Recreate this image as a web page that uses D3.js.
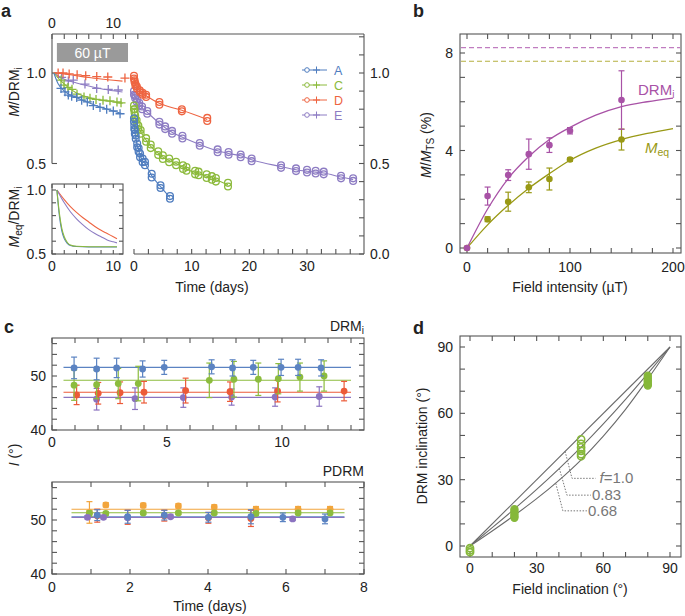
<!DOCTYPE html>
<html><head><meta charset="utf-8">
<script src="https://cdn.jsdelivr.net/npm/d3@7"></script>
<style>
body{margin:0;background:#fff}
svg{display:block}
text{font-family:"Liberation Sans",Arial,Helvetica,sans-serif;fill:#222}
</style>
</head><body><svg id="c" width="685" height="616"></svg>
<script>
// ---------------- DATA ----------------
// Panel a : crosses (during 60 uT field), time on top axis (days)
const crossA = [[1.47,0.915],[2.12,0.896],[2.66,0.878],[3.21,0.872],[4.03,0.865],[4.84,0.85],[5.76,0.84],[6.74,0.82],[7.83,0.81],[8.92,0.80],[10.0,0.79],[11.1,0.775]];
const crossC = [[1.47,0.961],[1.96,0.933],[2.61,0.92],[3.26,0.91],[4.08,0.883],[5.22,0.868],[6.2,0.86],[7.18,0.854],[8.32,0.85],[9.46,0.846],[10.6,0.84],[11.26,0.835]];
const crossD = [[1.0,1.0],[1.8,1.0],[2.8,0.995],[4.1,0.99],[5.5,0.985],[7.3,0.98],[9.1,0.978],[11.9,0.972]];
const crossE = [[1.58,0.976],[2.66,0.956],[3.47,0.961],[5.38,0.939],[7.29,0.915],[9.18,0.909],[10.8,0.906]];
const fitCrossA = [[0.3,1.0],[1,0.94],[2,0.9],[4,0.865],[6,0.835],[8,0.81],[10,0.79],[11.5,0.775]];
const fitCrossC = [[0.3,1.0],[1.5,0.955],[2.5,0.925],[4,0.89],[6,0.865],[8,0.85],[10,0.84],[11.5,0.832]];
const fitCrossD = [[0.3,1.0],[2,0.995],[4,0.985],[6,0.975],[8,0.967],[10,0.96],[11.5,0.955]];
const fitCrossE = [[0.3,1.0],[2,0.965],[4,0.945],[6,0.928],[8,0.913],[10,0.902],[11.5,0.895]];
// Panel a : circles (zero field), time on bottom axis (days) [t, upper replicate, lower replicate]
const circA = [[0,0.75,0.73],[0.05,0.71,0.69],[0.15,0.685,0.665],[0.3,0.655,0.637],[0.55,0.61,0.59],[0.8,0.585,0.565],[1.05,0.555,0.535],[1.5,0.527,0.507],[1.9,0.51,0.49],[3.07,0.443,0.423],[4.6,0.38,0.365],[6.24,0.32,0.305]];
const circC = [[0,0.82,0.80],[0.1,0.80,0.78],[0.2,0.765,0.748],[0.45,0.74,0.72],[0.75,0.71,0.69],[1.15,0.685,0.665],[2.1,0.64,0.62],[2.9,0.605,0.585],[4.2,0.567,0.547],[5.0,0.545,0.525],[6.1,0.527,0.507],[7.3,0.51,0.49],[8.5,0.49,0.47],[9.1,0.48,0.46],[10.6,0.46,0.44],[11.2,0.455,0.435],[12.6,0.44,0.42],[13.5,0.43,0.41],[14.2,0.42,0.40],[16.3,0.393,0.373]];
const circD = [[0,0.985,0.97],[0.1,0.96,0.95],[0.25,0.94,0.93],[0.5,0.925,0.915],[1.0,0.905,0.895],[1.5,0.89,0.88],[2.1,0.88,0.868],[4.4,0.84,0.825],[8.3,0.80,0.788],[12.7,0.752,0.735]];
const circE = [[0,0.90,0.88],[0.2,0.875,0.86],[0.5,0.855,0.84],[0.9,0.835,0.82],[1.4,0.815,0.80],[2.3,0.79,0.775],[4.4,0.73,0.715],[5.4,0.705,0.69],[6.6,0.68,0.665],[8.4,0.653,0.638],[11.4,0.613,0.598],[14.5,0.578,0.562],[16.4,0.563,0.548],[18.5,0.55,0.535],[20.4,0.528,0.513],[25.5,0.49,0.476],[28.1,0.473,0.458],[30,0.465,0.45],[31.5,0.46,0.445],[32.9,0.455,0.44],[35.9,0.432,0.418],[38,0.418,0.404]];
// Panel a inset: Meq/DRMi curves
const insetA = [[0.8,1],[1.2,0.8],[1.6,0.68],[2,0.62],[2.5,0.583],[3,0.566],[4,0.558],[6,0.555],[10.6,0.555]];
const insetC = [[0.8,1],[1.2,0.82],[1.6,0.7],[2,0.635],[2.5,0.59],[3,0.57],[4,0.56],[6,0.557],[10.6,0.557]];
const insetD = [[0.8,1],[2,0.925],[3,0.87],[4,0.825],[5,0.785],[6,0.75],[7,0.715],[8,0.685],[9,0.66],[10,0.635],[10.6,0.62]];
const insetE = [[0.8,1],[2,0.9],[3,0.83],[4,0.775],[5,0.73],[6,0.69],[7,0.66],[8,0.635],[9,0.61],[10,0.595],[10.6,0.587]];
const seriesNames = ["A","C","D","E"];

// Panel b: [field uT, value %, error]
const bDRM = [[0,0,0],[20,2.13,0.37],[40,2.99,0.22],[60,3.85,0.62],[80,4.22,0.3],[100,4.81,0.13],[150,6.07,1.2]];
const bMeq = [[0,0,0],[20,1.18,0.1],[40,1.9,0.39],[60,2.49,0.22],[80,2.83,0.45],[100,3.63,0.07],[150,4.45,0.43]];
const bFitDRM = [[0,0],[20,1.6],[40,2.85],[60,3.75],[80,4.45],[100,4.95],[125,5.45],[150,5.8],[175,6.0],[200,6.15]];
const bFitMeq = [[0,0],[20,0.95],[40,1.75],[60,2.45],[80,3.05],[100,3.6],[125,4.1],[150,4.45],[175,4.7],[200,4.9]];
const bLimitDRM = 8.22, bLimitMeq = 7.66;

// Panel c top (DRMi): [day, inclination, error]
const cTopBlue = [[0.96,51.5,2],[1.94,51.3,2],[2.81,51.5,1.8],[3.94,51.3,1.5],[4.88,51.6,1.3],[6.94,51.7,1.3],[7.85,51.5,1.5],[8.75,51.6,1.3],[9.96,51.6,1.5],[10.7,51.6,1.5],[11.7,51.5,1.5]];
const cTopGreen = [[0.96,48.3,2.8],[1.94,48.4,2.6],[2.88,48.6,2.8],[3.75,48.6,3.2],[6.84,49.2,3.2],[7.91,49.4,3.3],[8.97,49.4,3.0],[9.84,49.5,2.8],[10.78,49.8,2.6],[11.83,50.0,2.8]];
const cTopRed = [[1.07,46.5,1.8],[2.01,46.8,2.0],[2.96,46.9,2.0],[4.0,47.0,2.0],[5.81,47.3,2.3],[7.74,47.1,1.8],[9.81,47.2,2.0],[12.7,47.2,1.8]];
const cTopPurple = [[1.94,45.7,2.0],[3.61,45.8,2.0],[5.71,46.0,1.8],[7.81,46.1,1.5],[9.7,46.1,1.7],[11.62,46.2,1.8]];
const cTopMeans = {blue:51.6, green:49.2, red:47.0, purple:46.05};
// Panel c bottom (PDRM)
const cBotOrange = [[0.96,51.4,2.0],[1.38,52.8,0.4],[2.34,52.7,0.4],[3.24,52.6,0.4],[4.16,52.4,0.4],[5.23,52.0,0.5],[6.31,52.0,0.5],[7.13,52.0,0.5]];
const cBotGreen = [[0.96,51.2,0.5],[1.38,51.2,0.3],[2.34,51.3,0.3],[3.24,51.3,0.3],[4.16,51.3,0.3],[5.23,51.2,0.3],[6.31,51.3,0.3],[7.13,51.3,0.3]];
const cBotRed = [[1.16,50.8,1.2],[1.94,50.5,1.3],[2.88,50.8,1.0],[4.01,50.4,1.0],[5.1,50.3,1.5]];
const cBotBlue = [[1.16,50.9,1.0],[1.94,50.6,1.2],[2.88,50.9,0.9],[4.01,50.5,0.9],[5.1,50.6,1.3],[5.92,50.5,0.8],[7.0,50.2,0.9]];
const cBotPurple = [[0.91,50.5,0.3],[1.32,50.5,0.3],[1.94,50.4,0.3],[3.04,50.6,0.3],[6.17,50.2,0.3]];
const cBotMeans = {orange:52.0, green:51.35, blue:50.6, purple:50.45};

// Panel d: inclination curves (field inclination, DRM inclination)
const dF100 = [[0,0],[90,90]];
const dF083 = [[0,0],[10,8.3],[20,16.8],[30,25.6],[40,34.9],[50,44.7],[60,55.2],[70,66.3],[80,78],[90,90]];
const dF068 = [[0,0],[10,6.8],[20,13.9],[30,21.4],[40,29.7],[50,39],[60,49.7],[70,61.8],[80,75.5],[90,90]];
const dLabels = ["f=1.0","0.83","0.68"];
// leader: [curve anchor field, anchor DRM, corner field, corner DRM, end field]
const dLeaders = [[42.8,42.8,45.9,30.6,56.5],[40.2,35.1,43.6,23.0,54.4],[38.6,28.3,41.8,15.9,52.6]];
const dPtsOpen = [[0,-1.0],[0,-2.0],[0,-2.8],[50,48.2],[50,46.2],[50,44.6],[50,43.0],[50,41.5],[50,40.6]];
const dPtsFilled = [[20,16.6],[20,15.6],[20,14.6],[20,13.6],[20,12.8],[80,77.0],[80,76.0],[80,75.0],[80,74.2],[80,73.2],[80,72.6]];

// ---------------- DRAWING ----------------
const svg = d3.select("#c");
svg.append("rect").attr("width",685).attr("height",616).attr("fill","#fff");
const colA="#4f7dbf", colC="#8cba3c", colD="#ee6441", colE="#8d7cc3";
const axisCol="#555";

function seg(g,x1,y1,x2,y2,col=axisCol,w=1.1){
  return g.append("line").attr("x1",x1).attr("y1",y1).attr("x2",x2).attr("y2",y2).attr("stroke",col).attr("stroke-width",w);
}
function ticks(g,sc,vals,side,pos,len=5){
  vals.forEach(v=>{
    const p=sc(v);
    if(side==="top") seg(g,p,pos,p,pos+len);
    else if(side==="bottom") seg(g,p,pos,p,pos-len);
    else if(side==="left") seg(g,pos,p,pos+len,p);
    else seg(g,pos,p,pos-len,p);
  });
}
function txt(g,x,y,s,anchor="middle",size=14,col="#222"){
  return g.append("text").attr("x",x).attr("y",y).attr("text-anchor",anchor).attr("font-size",size).style("fill",col).text(s);
}
function frame(g,x0,y0,x1,y1){
  g.append("rect").attr("x",x0).attr("y",y0).attr("width",x1-x0).attr("height",y1-y0).attr("fill","none").attr("stroke",axisCol).attr("stroke-width",1.1);
}
function vlabel(g,x,y,parts,size=14){
  const t=g.append("text").attr("transform",`translate(${x},${y}) rotate(-90)`).attr("text-anchor","middle").attr("font-size",size);
  parts.forEach(p=>{
    const ts=t.append("tspan").text(p.t);
    if(p.i) ts.style("font-style","italic");
    if(p.sub){ts.attr("font-size",size*0.72).attr("dy",3);}
    if(p.up){ts.attr("dy",-3);}
  });
  return t;
}
function panelLabel(x,y,s){svg.append("text").attr("x",x).attr("y",y).attr("font-size",18).attr("font-weight","bold").text(s);}

// ===== Panel a =====
const gA = svg.append("g");
const yA = d3.scaleLinear().domain([0,1]).range([254,73]);
const xTop = d3.scaleLinear().domain([0,10]).range([52,113.3]);
const xBot = d3.scaleLinear().domain([0,30]).range([134,307]);
const yTopEdge = 34;
seg(gA,52,yTopEdge,364,yTopEdge);
seg(gA,364,yTopEdge,364,254);
seg(gA,52,yTopEdge,52,yA(0.5));
seg(gA,134,254,364,254);
ticks(gA,xTop,d3.range(0,15,2),"top",yTopEdge,5);
ticks(gA,yA,[0.5,1.0],"left",52,5);
ticks(gA,yA,d3.range(0,1.21,0.1),"right",364,5);
ticks(gA,xBot,d3.range(0,39.9,2.5),"bottom",254,5);
txt(gA,xTop(0),28,"0"); txt(gA,xTop(10),28,"10");
txt(gA,46,yA(1)+5,"1.0","end"); txt(gA,46,yA(0.5)+5,"0.5","end");
[0,0.5,1].forEach(v=>txt(gA,370,yA(v)+5,v.toFixed(1),"start"));
[0,10,20,30].forEach(v=>txt(gA,xBot(v),271,String(v)));
txt(gA,212,292,"Time (days)");
// 60 uT box
gA.append("rect").attr("x",xTop(0.8)).attr("y",43).attr("width",xTop(12.4)-xTop(0.8)).attr("height",19).attr("fill","#9a9a9a");
txt(gA,(xTop(0.8)+xTop(12.4))/2,57.5,"60 µT","middle",14,"#fff");
vlabel(gA,19,92,[{t:"M",i:true},{t:"/DRM"},{t:"i",sub:true}]);
vlabel(gA,19,217,[{t:"M",i:true},{t:"eq",sub:true},{t:"/DRM",up:true},{t:"i",sub:true}]);

const lineTop = d3.line().x(d=>xTop(d[0])).y(d=>yA(d[1])).curve(d3.curveMonotoneX);
const lineBot = d3.line().x(d=>xBot(d[0])).y(d=>yA((d[1]+d[2])/2)).curve(d3.curveMonotoneX);
const aSeries = [
  {c:colA,cross:crossA,fit:fitCrossA,circ:circA},
  {c:colC,cross:crossC,fit:fitCrossC,circ:circC},
  {c:colD,cross:crossD,fit:fitCrossD,circ:circD},
  {c:colE,cross:crossE,fit:fitCrossE,circ:circE}];
const drawOrder=[3,2,1,0];
drawOrder.forEach(i=>{
  const s=aSeries[i];
  gA.append("path").attr("d",lineTop(s.fit)).attr("fill","none").attr("stroke",s.c).attr("stroke-width",1.1);
  s.cross.forEach(d=>{
    const x=xTop(d[0]), y=yA(d[1]);
    gA.append("path").attr("d",`M${x-4.5},${y}H${x+4.5}M${x},${y-4.5}V${y+4.5}`).attr("stroke",s.c).attr("stroke-width",1.3);
  });
  gA.append("path").attr("d",lineBot(s.circ)).attr("fill","none").attr("stroke",s.c).attr("stroke-width",1.1);
  s.circ.forEach(d=>{
    [d[1],d[2]].forEach(v=>{
      gA.append("circle").attr("cx",xBot(d[0])).attr("cy",yA(v)).attr("r",3.4).attr("fill","none").attr("stroke",s.c).attr("stroke-width",1.3);
    });
  });
});
// legend
seriesNames.forEach((n,i)=>{
  const y=70+15*i, c=aSeries[i].c;
  seg(gA,302,y,327,y,c,1);
  gA.append("circle").attr("cx",307).attr("cy",y).attr("r",2.3).attr("fill","#fff").attr("stroke",c).attr("stroke-width",1);
  gA.append("path").attr("d",`M${313},${y}H${320}M${316.5},${y-3.5}V${y+3.5}`).attr("stroke",c).attr("stroke-width",1);
  txt(gA,334,y+4.5,n,"start",12.5,c);
});
// inset
const yIn = d3.scaleLinear().domain([0.5,1]).range([254,190]);
frame(gA,52,184,123,254);
ticks(gA,yIn,d3.range(0.5,1.01,0.1),"left",52,4);
ticks(gA,yIn,d3.range(0.5,1.01,0.1),"right",123,4);
ticks(gA,xTop,d3.range(0,11.6,2),"bottom",254,4);
ticks(gA,xTop,d3.range(0,11.6,2),"top",184,4);
txt(gA,46,yIn(1)+5,"1.0","end"); txt(gA,46,yIn(0.5)+5,"0.5","end");
txt(gA,xTop(0),271,"0"); txt(gA,xTop(10),271,"10");
const lineIn = d3.line().x(d=>xTop(d[0])).y(d=>yIn(d[1])).curve(d3.curveMonotoneX);
[[insetD,colD],[insetE,colE],[insetA,colA],[insetC,colC]].forEach(([d,c])=>{
  gA.append("path").attr("d",lineIn(d)).attr("fill","none").attr("stroke",c).attr("stroke-width",1.1);
});
panelLabel(1,17,"a");

// ===== Panel b =====
const gB = svg.append("g");
const xB = d3.scaleLinear().domain([0,200]).range([467,673]);
const yB = d3.scaleLinear().domain([0,8]).range([248,53]);
const colM="#a852a6", colO="#999915";
frame(gB,460,34,681,253);
ticks(gB,xB,d3.range(0,201,20),"top",34,5);
ticks(gB,xB,d3.range(0,201,20),"bottom",253,5);
ticks(gB,yB,d3.range(0,9,1),"left",460,5);
ticks(gB,yB,d3.range(0,9,1),"right",681,5);
[0,100,200].forEach(v=>txt(gB,xB(v),272,String(v)));
[0,4,8].forEach(v=>txt(gB,453,yB(v)+5,String(v),"end"));
txt(gB,570,292,"Field intensity (µT)");
vlabel(gB,431,145,[{t:"M",i:true},{t:"/"},{t:"M",i:true},{t:"TS",sub:true},{t:" (%)",up:true}]);
seg(gB,461,yB(bLimitDRM),680,yB(bLimitDRM),"#c07cc0",1.1).attr("stroke-dasharray","5,3");
seg(gB,461,yB(bLimitMeq),680,yB(bLimitMeq),"#b5b040",1.1).attr("stroke-dasharray","5,3");
const lineB = d3.line().x(d=>xB(d[0])).y(d=>yB(d[1])).curve(d3.curveMonotoneX);
[[bFitMeq,colO],[bFitDRM,colM]].forEach(([d,c])=>gB.append("path").attr("d",lineB(d)).attr("fill","none").attr("stroke",c).attr("stroke-width",1.3));
function errPts(g,xs,ys,data,c,r=3.3,cap=3){
  data.forEach(d=>{
    const x=xs(d[0]);
    if(d[2]>0){
      seg(g,x,ys(d[1]-d[2]),x,ys(d[1]+d[2]),c,1.2);
      seg(g,x-cap,ys(d[1]-d[2]),x+cap,ys(d[1]-d[2]),c,1.2);
      seg(g,x-cap,ys(d[1]+d[2]),x+cap,ys(d[1]+d[2]),c,1.2);
    }
    g.append("circle").attr("cx",x).attr("cy",ys(d[1])).attr("r",r).attr("fill",c);
  });
}
errPts(gB,xB,yB,bMeq,colO);
errPts(gB,xB,yB,bDRM,colM);
const tD=txt(gB,638,95,"DRM","start",15,colM); tD.append("tspan").attr("font-size",10).attr("dy",3).text("i");
const tM=gB.append("text").attr("x",645).attr("y",153).attr("font-size",15).style("fill",colO);
tM.append("tspan").style("font-style","italic").text("M"); tM.append("tspan").attr("font-size",10.5).attr("dy",3).text("eq");
panelLabel(413,17,"b");

// ===== Panel c =====
const gC = svg.append("g");
const cBlue="#5b83c2", cGreen="#8cbc3e", cRed="#ec5a38", cPurple="#8b73c0", cOrange="#f2a53c";
const xC1 = d3.scaleLinear().domain([0,5]).range([52,167]);
const yC1 = d3.scaleLinear().domain([40,50]).range([430,376]);
frame(gC,52,338,364,430);
ticks(gC,xC1,d3.range(0,13.5,1),"top",338,5);
ticks(gC,xC1,d3.range(0,13.5,1),"bottom",430,5);
ticks(gC,yC1,d3.range(40,57,2),"left",52,5);
ticks(gC,yC1,d3.range(40,57,2),"right",364,5);
[0,5,10].forEach(v=>txt(gC,xC1(v),447,String(v)));
[40,50].forEach(v=>txt(gC,46,yC1(v)+5,String(v),"end"));
const tR=txt(gC,364,331,"DRM","end",14); tR.append("tspan").attr("font-size",10).attr("dy",3).text("i");
[[cTopMeans.purple,cPurple],[cTopMeans.red,cRed],[cTopMeans.green,cGreen],[cTopMeans.blue,cBlue]].forEach(([m,c])=>seg(gC,xC1(0.5),yC1(m),xC1(13),yC1(m),c,1.1));
errPts(gC,xC1,yC1,cTopPurple,cPurple,3.4);
errPts(gC,xC1,yC1,cTopRed,cRed,3.4);
errPts(gC,xC1,yC1,cTopGreen,cGreen,3.4);
errPts(gC,xC1,yC1,cTopBlue,cBlue,3.4);

const xC2 = d3.scaleLinear().domain([0,8]).range([52,364]);
const yC2 = d3.scaleLinear().domain([40,50]).range([574,520]);
frame(gC,52,482,364,574);
ticks(gC,xC2,d3.range(0,8.1,1),"top",482,5);
ticks(gC,xC2,d3.range(0,8.1,1),"bottom",574,5);
ticks(gC,yC2,d3.range(40,57,2),"left",52,5);
ticks(gC,yC2,d3.range(40,57,2),"right",364,5);
[0,2,4,6,8].forEach(v=>txt(gC,xC2(v),592,String(v)));
[40,50].forEach(v=>txt(gC,46,yC2(v)+5,String(v),"end"));
txt(gC,364,476,"PDRM","end",14);
[[cBotMeans.orange,cOrange],[cBotMeans.green,cGreen],[cBotMeans.blue,cBlue],[cBotMeans.purple,cPurple]].forEach(([m,c])=>seg(gC,xC2(0.5),yC2(m),xC2(7.5),yC2(m),c,1.1));
errPts(gC,xC2,yC2,cBotOrange,cOrange,3.4);
errPts(gC,xC2,yC2,cBotGreen,cGreen,3.4);
errPts(gC,xC2,yC2,cBotRed,cRed,3.4);
errPts(gC,xC2,yC2,cBotPurple,cPurple,3.4);
errPts(gC,xC2,yC2,cBotBlue,cBlue,3.4);
txt(gC,210,611,"Time (days)");
vlabel(gC,19,455,[{t:"I",i:true},{t:" (°)"}]);
panelLabel(4,333,"c");

// ===== Panel d =====
const gD = svg.append("g");
const xD = d3.scaleLinear().domain([0,90]).range([470,670]);
const yD = d3.scaleLinear().domain([0,90]).range([546,347]);
const dGreen="#86b83a", dGray="#6a6a6a";
frame(gD,460,336,681,557);
ticks(gD,xD,d3.range(0,91,10),"top",336,5);
ticks(gD,xD,d3.range(0,91,10),"bottom",557,5);
ticks(gD,yD,d3.range(0,91,10),"left",460,5);
ticks(gD,yD,d3.range(0,91,10),"right",681,5);
[0,30,60,90].forEach(v=>txt(gD,xD(v),573,String(v)));
[0,30,60,90].forEach(v=>txt(gD,453,yD(v)+5,String(v),"end"));
txt(gD,570,594,"Field inclination (°)");
vlabel(gD,427,446,[{t:"DRM inclination (°)"}]);
const lineD = d3.line().x(d=>xD(d[0])).y(d=>yD(d[1])).curve(d3.curveMonotoneX);
[dF100,dF083,dF068].forEach(d=>gD.append("path").attr("d",lineD(d)).attr("fill","none").attr("stroke",dGray).attr("stroke-width",1.1));
dLeaders.forEach((L,i)=>{
  gD.append("path").attr("d",`M${xD(L[0])},${yD(L[1])}L${xD(L[2])},${yD(L[3])}H${xD(L[4])}`).attr("fill","none").attr("stroke","#777").attr("stroke-width",1).attr("stroke-dasharray","1.5,1.5");
});
const lf=gD.append("text").attr("x",xD(dLeaders[0][4])+4).attr("y",yD(dLeaders[0][3])+5).attr("font-size",15).style("fill","#777");
lf.append("tspan").style("font-style","italic").text("f"); lf.append("tspan").text("=1.0");
txt(gD,xD(dLeaders[1][4])+1,yD(dLeaders[1][3])+5,dLabels[1],"start",15,"#777");
txt(gD,xD(dLeaders[2][4])+1,yD(dLeaders[2][3])+5,dLabels[2],"start",15,"#777");
dPtsOpen.forEach(d=>gD.append("circle").attr("cx",xD(d[0])).attr("cy",yD(d[1])).attr("r",3.6).attr("fill","none").attr("stroke",dGreen).attr("stroke-width",1.6));
dPtsFilled.forEach(d=>gD.append("circle").attr("cx",xD(d[0])).attr("cy",yD(d[1])).attr("r",3.6).attr("fill",dGreen).attr("stroke",dGreen).attr("stroke-width",1.2));
panelLabel(413,334,"d");
</script></body></html>
